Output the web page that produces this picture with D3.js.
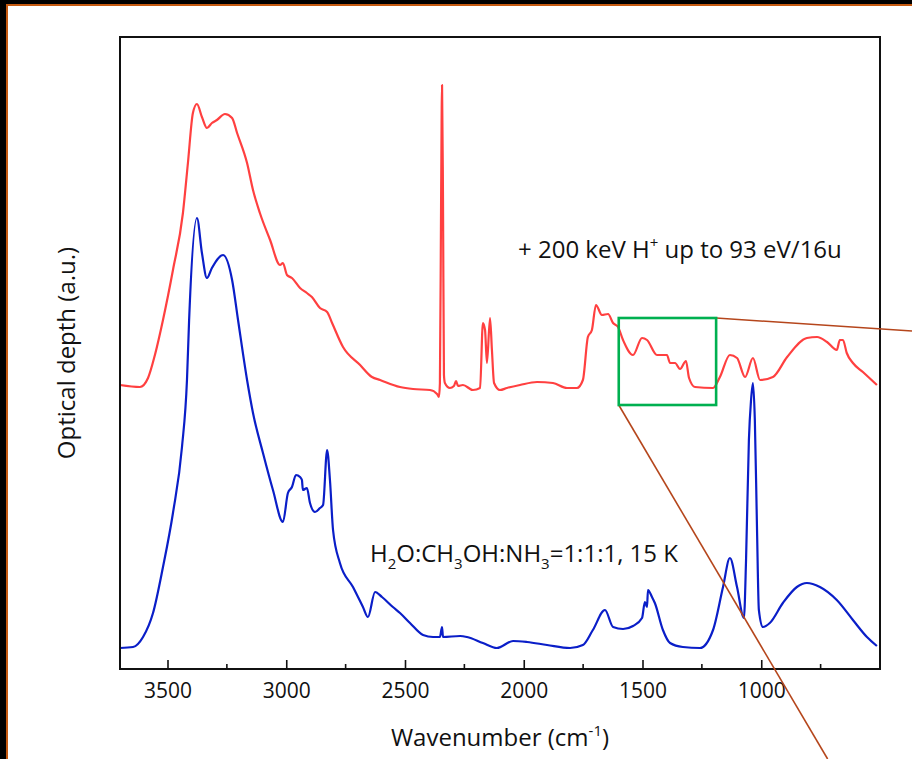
<!DOCTYPE html>
<html>
<head>
<meta charset="utf-8">
<script src="https://cdn.jsdelivr.net/npm/d3@7"></script>
<style>
  body { margin: 0; background: #000; }
  svg { display: block; }
  text { font-family: "Open Sans", Lato, sans-serif; fill: #111; }
</style>
</head>
<body>
<svg id="chart" width="912" height="759"></svg>
<script>
// wavenumber (cm-1) and optical depth (a.u., offset)
var blueWn = [3700,3645,3603,3561,3519,3477,3439,3418,3409,3376,3355,3334,3313,3266,3228,3203,3165,3140,3098,3056,3014,2993,2976,2959,2942,2934,2930,2913,2900,2879,2858,2845,2828,2816,2803,2774,2719,2677,2656,2626,2597,2551,2521,2479,2424,2382,2353,2344,2340,2268,2239,2172,2113,2045,1986,1902,1805,1751,1709,1658,1624,1582,1540,1502,1490,1481,1477,1460,1448,1414,1384,1330,1258,1203,1161,1132,1102,1073,1064,1052,1043,1035,1027,1018,1010,993,964,909,850,808,753,682,614,555,513];
var blueOD = [0.21,0.22,0.32,0.56,1.02,1.56,2.22,2.89,3.49,4.51,4.16,3.91,4.01,4.14,3.89,3.49,2.89,2.56,2.16,1.79,1.47,1.76,1.82,1.94,1.92,1.89,1.79,1.81,1.66,1.57,1.61,1.64,2.19,1.89,1.39,1.06,0.82,0.62,0.52,0.77,0.72,0.62,0.56,0.46,0.34,0.32,0.32,0.42,0.32,0.33,0.32,0.26,0.21,0.28,0.27,0.24,0.21,0.24,0.39,0.59,0.42,0.40,0.43,0.51,0.67,0.62,0.79,0.72,0.66,0.39,0.26,0.22,0.21,0.39,0.82,1.11,0.82,0.51,1.09,2.29,2.69,2.86,2.49,1.42,0.59,0.42,0.46,0.66,0.82,0.86,0.82,0.69,0.49,0.32,0.23];

var redWn = [3700,3616,3582,3553,3519,3477,3435,3414,3393,3376,3355,3334,3313,3292,3258,3228,3207,3165,3140,3111,3068,3026,3014,2997,2976,2942,2913,2892,2858,2828,2807,2761,2689,2639,2605,2521,2466,2395,2365,2357,2353,2348,2344,2340,2336,2332,2311,2294,2285,2277,2256,2214,2184,2172,2163,2155,2142,2134,2125,2100,2071,2016,1944,1877,1818,1776,1751,1730,1713,1696,1671,1645,1624,1603,1582,1540,1502,1481,1439,1397,1384,1363,1342,1317,1304,1279,1203,1174,1132,1102,1068,1035,1005,951,891,808,765,723,682,669,656,640,614,572,513];
var redOD = [2.84,2.82,2.91,3.14,3.49,3.99,4.56,5.06,5.56,5.65,5.52,5.41,5.46,5.49,5.55,5.51,5.36,5.06,4.79,4.56,4.29,4.04,4.06,3.94,3.91,3.81,3.76,3.72,3.61,3.57,3.46,3.22,3.04,2.92,2.89,2.82,2.80,2.79,2.75,2.72,2.86,4.69,5.84,4.69,2.94,2.86,2.81,2.83,2.88,2.83,2.84,2.79,2.81,3.46,3.39,3.06,3.51,3.19,2.86,2.79,2.81,2.84,2.87,2.86,2.81,2.81,2.89,3.32,3.39,3.64,3.54,3.55,3.46,3.42,3.29,3.14,3.31,3.29,3.14,3.14,3.06,3.06,3.00,3.08,2.91,2.82,2.81,2.92,3.14,3.11,2.92,3.11,2.89,2.92,3.12,3.31,3.32,3.27,3.19,3.29,3.29,3.16,3.06,2.97,2.84];

var majorTicks = [3500, 3000, 2500, 2000, 1500, 1000];
var minorTicks = [3250, 2750, 2250, 1750, 1250, 750];

// text pieces: [text, isSubOrSup]
var labelRed = [["+ 200 keV H", 0], ["+", 1], [" up to 93 eV/16u", 0]];
var labelBlue = [["H", 0], ["2", 1], ["O:CH", 0], ["3", 1], ["OH:NH", 0], ["3", 1], ["=1:1:1, 15 K", 0]];

// zoomed region marked on the irradiated spectrum
var boxWn = [1600, 1190];
var boxOD = [2.64, 3.51];

var svg = d3.select("#chart"),
    margin = {top: 37, left: 120, bottom: 90, right: 32},
    W = +svg.attr("width"), H = +svg.attr("height");

svg.append("rect")
    .attr("x", 7).attr("y", 5)
    .attr("width", W + 20).attr("height", H + 20)
    .attr("fill", "#fff")
    .attr("stroke", "#c55a11")
    .attr("stroke-width", 2);

var x = d3.scaleLinear()
    .domain([3700, 500])
    .range([margin.left, W - margin.right]);

var y = d3.scaleLinear()
    .domain([0, 6.32])
    .range([H - margin.bottom, margin.top]);

var line = d3.line()
    .x(d => x(d[0]))
    .y(d => y(d[1]))
    .curve(d3.curveMonotoneX);

svg.append("path")
    .datum(d3.zip(redWn, redOD))
    .attr("fill", "none")
    .attr("stroke", "#ff4040")
    .attr("stroke-width", 2.2)
    .attr("stroke-linejoin", "round")
    .attr("d", line);

svg.append("path")
    .datum(d3.zip(blueWn, blueOD))
    .attr("fill", "none")
    .attr("stroke", "#0a1ec8")
    .attr("stroke-width", 2.2)
    .attr("stroke-linejoin", "round")
    .attr("d", line);

// frame
svg.append("rect")
    .attr("x", x(3700)).attr("y", y(6.32))
    .attr("width", x(500) - x(3700))
    .attr("height", y(0) - y(6.32))
    .attr("fill", "none")
    .attr("stroke", "#111")
    .attr("stroke-width", 2);

var xAxis = svg.append("g")
    .attr("transform", `translate(0,${y(0)})`)
    .call(d3.axisBottom(x).tickValues(majorTicks).tickSizeInner(-9).tickSizeOuter(0).tickPadding(14).tickFormat(d3.format("d")));
xAxis.select(".domain").remove();
xAxis.selectAll("line").attr("stroke", "#111").attr("stroke-width", 1.6);
xAxis.selectAll("text").style("font-family", "'Open Sans', sans-serif").style("font-size", "21px").attr("fill", "#111");

svg.append("g")
    .selectAll("line")
    .data(minorTicks)
    .enter().append("line")
    .attr("x1", d => x(d)).attr("x2", d => x(d))
    .attr("y1", y(0)).attr("y2", y(0) - 5)
    .attr("stroke", "#111").attr("stroke-width", 1.6);

// axis titles
var xt = svg.append("text")
    .attr("x", (x(3700) + x(500)) / 2)
    .attr("y", 746)
    .attr("text-anchor", "middle")
    .style("font-size", "24px");
xt.append("tspan").text("Wavenumber (cm");
xt.append("tspan").attr("dy", -10).style("font-size", "15px").text("-1");
xt.append("tspan").attr("dy", 10).text(")");

svg.append("text")
    .attr("transform", `translate(75,${(y(0) + y(6.32)) / 2}) rotate(-90)`)
    .attr("text-anchor", "middle")
    .style("font-size", "24px")
    .text("Optical depth (a.u.)");

// annotations with super/subscripts
function richText(parts, px, py, shift) {
    var t = svg.append("text").attr("x", px).attr("y", py).style("font-size", "24px");
    var prev = 0;
    parts.forEach(function(p) {
        var off = p[1] ? shift : 0;
        var ts = t.append("tspan").attr("dy", off - prev).text(p[0]);
        if (p[1]) ts.style("font-size", "15px");
        prev = off;
    });
    return t;
}
richText(labelRed, 518, 258, -10);
richText(labelBlue, 370, 562, 7);

// zoom box and leader lines
var bx0 = x(boxWn[0]), bx1 = x(boxWn[1]), by0 = y(boxOD[1]), by1 = y(boxOD[0]);

svg.append("line")
    .attr("x1", bx1).attr("y1", by0)
    .attr("x2", 912).attr("y2", by0 + 13)
    .attr("stroke", "#b5461c").attr("stroke-width", 1.6);

svg.append("line")
    .attr("x1", bx0).attr("y1", by1)
    .attr("x2", bx0 + (759 - by1) * 0.59).attr("y2", 759)
    .attr("stroke", "#b5461c").attr("stroke-width", 1.6);

svg.append("rect")
    .attr("x", bx0).attr("y", by0)
    .attr("width", bx1 - bx0).attr("height", by1 - by0)
    .attr("fill", "none")
    .attr("stroke", "#00b050")
    .attr("stroke-width", 2.6);
</script>
</body>
</html>
